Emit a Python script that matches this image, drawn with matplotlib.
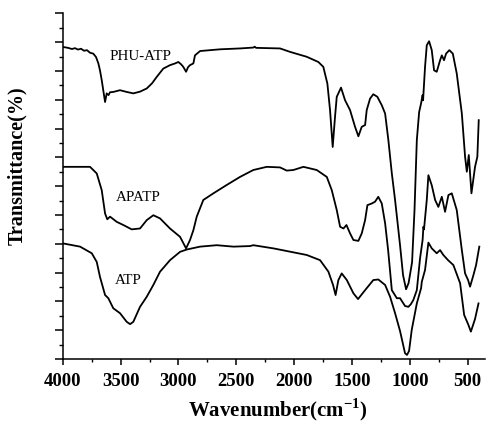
import matplotlib
matplotlib.use("Agg")
import matplotlib.pyplot as plt
from matplotlib.ticker import MultipleLocator, NullFormatter

plt.rcParams['font.family'] = ['Liberation Serif', 'DejaVu Serif']
plt.rcParams['mathtext.fontset'] = 'custom'
plt.rcParams['mathtext.rm'] = 'Liberation Serif:bold'
plt.rcParams['mathtext.bf'] = 'Liberation Serif:bold'

# ---- data (wavenumber cm^-1, transmittance in arbitrary offset units) ----
phu_wn = [3995, 3954, 3920, 3894, 3868, 3842, 3816, 3790, 3764, 3736, 3712, 3692, 3678,
          3663, 3647, 3634, 3620, 3604, 3591, 3563, 3505, 3447, 3390, 3332, 3274, 3228,
          3188, 3131, 3073, 3029, 3001, 2977, 2958, 2934, 2917, 2900, 2871, 2857, 2813,
          2640, 2468, 2353, 2341, 2329, 2122, 2035, 1891, 1791, 1748, 1713, 1690, 1667,
          1647, 1632, 1595, 1560, 1517, 1474, 1445, 1416, 1387, 1373, 1344, 1316, 1281,
          1243, 1214, 1186, 1156, 1128, 1085, 1059, 1033, 1011, 981, 960, 940, 920, 903,
          890, 886, 869, 854, 834, 811, 791, 768, 739, 724, 705, 687, 659, 629, 595, 551,
          523, 508, 491, 468, 437, 417, 405]
phu_t = [10.83, 10.80, 10.76, 10.79, 10.74, 10.77, 10.70, 10.72, 10.63, 10.60, 10.48, 10.26, 10.02,
         9.68, 9.26, 8.92, 9.22, 9.16, 9.26, 9.27, 9.33, 9.27, 9.22, 9.28, 9.39, 9.57,
         9.79, 10.08, 10.20, 10.26, 10.31, 10.23, 10.14, 9.97, 10.13, 10.20, 10.26, 10.54, 10.69,
         10.75, 10.78, 10.81, 10.84, 10.80, 10.78, 10.66, 10.49, 10.31, 10.14, 9.56, 8.64, 7.36,
         8.40, 9.10, 9.42, 8.98, 8.64, 8.06, 7.73, 8.06, 8.12, 8.64, 9.04, 9.19, 9.10,
         8.81, 8.52, 7.60, 6.44, 5.52, 3.95, 2.91, 2.42, 2.64, 3.36, 5.17, 7.60, 8.57, 8.88,
         9.16, 8.98, 10.14, 10.89, 11.03, 10.72, 10.02, 9.97, 10.37, 10.54, 10.37, 10.60, 10.72, 10.60, 9.91, 8.52,
         7.02, 6.50, 7.08, 5.75, 6.67, 7.02, 8.29]

apatp_wn = [3995, 3764, 3706, 3663, 3634, 3615, 3591, 3533, 3476, 3404, 3332, 3274, 3217,
            3159, 3073, 2986, 2934, 2900, 2871, 2842, 2785, 2698, 2583, 2468, 2353, 2237,
            2122, 2064, 2007, 1920, 1805, 1718, 1675, 1632, 1603, 1574, 1548, 1517, 1488,
            1445, 1416, 1387, 1367, 1328, 1301, 1273, 1243, 1214, 1188, 1156, 1113, 1085,
            1042, 1013, 990, 970, 940, 912, 890, 883, 878, 854, 840, 811, 782, 754, 724,
            696, 667, 638, 595, 551, 523, 497, 480, 451, 428, 400]
apatp_t = [6.67, 6.67, 6.44, 5.86, 5.05, 4.85, 4.94, 4.76, 4.65, 4.50, 4.53, 4.82, 4.99,
           4.88, 4.53, 4.24, 3.84, 4.13, 4.47, 4.94, 5.52, 5.75, 6.04, 6.32, 6.56, 6.67,
           6.65, 6.54, 6.56, 6.67, 6.56, 6.32, 5.86, 5.17, 4.59, 4.53, 4.65, 4.36, 4.13,
           4.10, 4.36, 4.82, 5.34, 5.40, 5.46, 5.63, 5.40, 4.71, 3.78, 2.39, 2.11, 2.11,
           1.84, 1.81, 1.91, 2.05, 2.39, 3.50, 4.13, 4.59, 4.50, 5.52, 6.38, 6.03, 5.52, 5.28, 5.63,
           5.11, 5.69, 5.75, 5.17, 3.78, 2.97, 2.74, 2.51, 2.91, 3.26, 3.90]

atp_wn = [3995, 3850, 3749, 3706, 3678, 3634, 3606, 3563, 3505, 3447, 3418, 3390, 3332,
          3274, 3217, 3159, 3073, 2986, 2928, 2813, 2669, 2525, 2381, 2353, 2180, 1891,
          1776, 1704, 1664, 1642, 1618, 1589, 1545, 1488, 1448, 1387, 1316, 1273, 1214,
          1171, 1128, 1085, 1042, 1025, 1007, 984, 940, 903, 897, 869, 840, 811, 768,
          739, 711, 670, 624, 566, 531, 494, 473, 454, 437, 407]
atp_t = [4.01, 3.90, 3.67, 3.37, 2.85, 2.22, 2.11, 1.76, 1.59, 1.29, 1.21, 1.29, 1.81,
         2.16, 2.57, 3.03, 3.43, 3.72, 3.80, 3.90, 3.95, 3.90, 3.92, 3.95, 3.84, 3.61,
         3.43, 3.03, 2.57, 2.22, 2.74, 2.97, 2.74, 2.28, 2.08, 2.39, 2.74, 2.76, 2.57,
         2.16, 1.59, 0.97, 0.20, 0.14, 0.28, 1.01, 1.93, 2.46, 2.68, 3.09, 4.04, 3.84, 3.67,
         3.78, 3.61, 3.43, 3.26, 2.63, 1.53, 1.18, 0.95, 1.18, 1.39, 1.93]

labels = ["PHU-ATP", "APATP", "ATP"]
label_wn = [3332, 3349, 3436]
label_t = [10.51, 5.62, 2.74]

x_ticks = [4000, 3500, 3000, 2500, 2000, 1500, 1000, 500]

# ---- figure ----
fig = plt.figure(figsize=(4.9, 4.26), dpi=100)
ax = fig.add_axes([0.128, 0.1573, 0.862, 0.8115])

for wn, t in [(phu_wn, phu_t), (apatp_wn, apatp_t), (atp_wn, atp_t)]:
    ax.plot(wn, t, color='black', lw=1.3)

for lab, xw, yt in zip(labels, label_wn, label_t):
    ax.text(xw, yt, lab, ha='center', va='center', fontsize=10.8)

ax.set_xlim(4000, 350)
ax.set_ylim(0, 12)
ax.set_xticks(x_ticks)
ax.set_xticklabels([str(v) for v in x_ticks], fontweight='bold', fontsize=13.5)
ax.xaxis.set_minor_locator(MultipleLocator(250))
ax.yaxis.set_major_locator(MultipleLocator(1))
ax.yaxis.set_minor_locator(MultipleLocator(0.5))
ax.yaxis.set_major_formatter(NullFormatter())

for s in ['top', 'right']:
    ax.spines[s].set_visible(False)
for s in ['left', 'bottom']:
    ax.spines[s].set_linewidth(1.1)

ax.tick_params(axis='x', which='major', direction='out', length=4, width=1.1, pad=6)
ax.tick_params(axis='x', which='minor', direction='out', length=2.5, width=1.0)
ax.tick_params(axis='y', which='major', direction='out', length=6, width=1.1)
ax.tick_params(axis='y', which='minor', direction='out', length=3, width=1.0)

ax.set_xlabel(r'Wavenumber(cm$^{\mathbf{-1}}$)', fontweight='bold', fontsize=15)
ax.xaxis.set_label_coords(0.51, -0.108)
ax.set_ylabel('Transmittance(%)', fontweight='bold', fontsize=14.5)
ax.yaxis.set_label_coords(-0.085, 0.56)

fig.savefig('out.png', dpi=100)
